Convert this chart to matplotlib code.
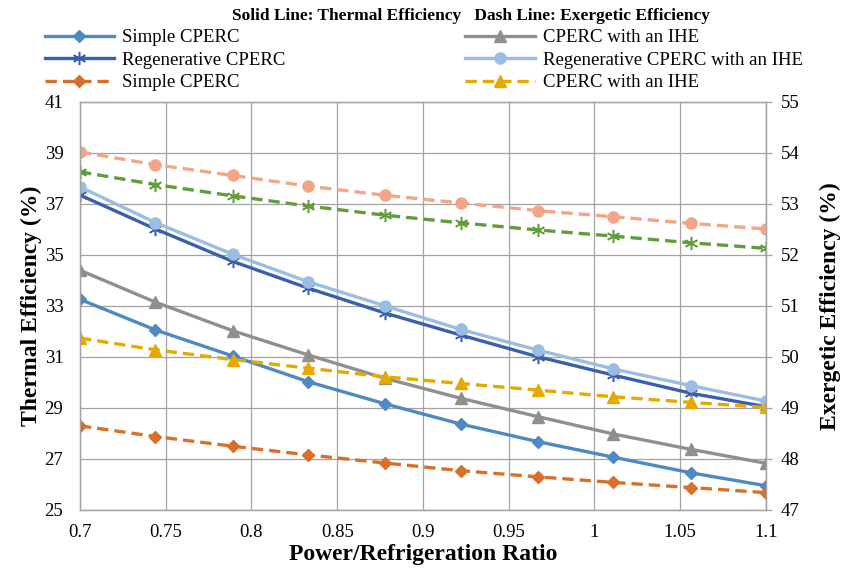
import numpy as np
from matplotlib import pyplot as plt
from matplotlib.lines import Line2D

# power/refrigeration ratio (10 points between 0.7 and 1.1)
RATIO = [0.7, 0.744, 0.789, 0.833, 0.878, 0.922, 0.967, 1.011, 1.056, 1.1]

# thermal efficiency (%), left axis, solid lines
th_simple = [33.26, 32.06, 31.04, 30.03, 29.16, 28.37, 27.68, 27.07, 26.46, 25.95]
th_regen = [37.35, 36.02, 34.75, 33.70, 32.72, 31.86, 31.01, 30.29, 29.58, 29.05]
th_ihe = [34.40, 33.15, 32.03, 31.08, 30.16, 29.38, 28.66, 27.98, 27.38, 26.83]
th_regen_ihe = [37.67, 36.27, 35.03, 33.95, 33.00, 32.08, 31.27, 30.53, 29.88, 29.27]

# exergetic efficiency (%), right axis, dashed lines
ex_simple = [48.65, 48.44, 48.25, 48.08, 47.92, 47.77, 47.65, 47.54, 47.44, 47.34]
ex_regen = [53.63, 53.38, 53.16, 52.96, 52.78, 52.63, 52.49, 52.37, 52.24, 52.13]
ex_ihe = [50.37, 50.14, 49.95, 49.78, 49.61, 49.48, 49.35, 49.22, 49.11, 49.01]
ex_regen_ihe = [54.02, 53.77, 53.56, 53.35, 53.17, 53.02, 52.87, 52.75, 52.62, 52.51]

XTICKS = [0.7, 0.75, 0.8, 0.85, 0.9, 0.95, 1.0, 1.05, 1.1]
XTICKLABELS = ["0.7", "0.75", "0.8", "0.85", "0.9", "0.95", "1", "1.05", "1.1"]
LEFT_TICKS = [25, 27, 29, 31, 33, 35, 37, 39, 41]
RIGHT_TICKS = [47, 48, 49, 50, 51, 52, 53, 54, 55]

plt.rcParams['font.family'] = ['Liberation Serif', 'DejaVu Serif']
GRID = "#a3a3a3"
LW = 2.4
DASH = (3.4, 1.8)

fig = plt.figure(figsize=(8.42, 5.73), dpi=100)
ax = fig.add_axes([0.095, 0.110, 0.8147, 0.712])
ax2 = ax.twinx()

# solid lines -> thermal
ax.plot(RATIO, th_simple, '-', color="#4e89c1", lw=LW, marker='D', ms=6.5)
ax.plot(RATIO, th_regen, '-', color="#3b5fae", lw=LW, marker=(6, 2, 0), ms=9.5, mew=1.1)
ax.plot(RATIO, th_ihe, '-', color="#8f8f8f", lw=LW, marker='^', ms=9)
ax.plot(RATIO, th_regen_ihe, '-', color="#9bbde3", lw=LW, marker='o', ms=8)

# dashed lines -> exergetic
ax2.plot(RATIO, ex_simple, '--', color="#d8702c", lw=LW, dashes=DASH, marker='D', ms=6.5)
ax2.plot(RATIO, ex_regen, '--', color="#5f9e38", lw=LW, dashes=DASH, marker=(6, 2, 0), ms=9.5, mew=1.1)
ax2.plot(RATIO, ex_ihe, '--', color="#e5a900", lw=LW, dashes=DASH, marker='^', ms=9)
ax2.plot(RATIO, ex_regen_ihe, '--', color="#f2a687", lw=LW, dashes=DASH, marker='o', ms=8)

ax.set_xlim(0.7, 1.1)
ax.set_ylim(25, 41)
ax2.set_ylim(47, 55)
ax.set_xticks(XTICKS)
ax.set_xticklabels(XTICKLABELS)
ax.set_yticks(LEFT_TICKS)
ax2.set_yticks(RIGHT_TICKS)

ax.grid(True, color=GRID, lw=0.9)
ax.set_axisbelow(True)
for a in (ax, ax2):
    for s in a.spines.values():
        s.set_color(GRID)
        s.set_linewidth(0.9)
ax.tick_params(axis='x', length=0, pad=10, labelsize=13.5)
ax.tick_params(axis='y', length=0, pad=12, labelsize=13.5)
ax2.tick_params(axis='y', length=4.5, color=GRID, width=0.9, pad=6, labelsize=13.5)

ax.set_xlabel("Power/Refrigeration Ratio", fontsize=17, fontweight='bold', labelpad=2)
ax.set_ylabel("Thermal Efficiency (%)", fontsize=17, fontweight='bold', labelpad=2)
ax2.set_ylabel("Exergetic Efficiency (%)", fontsize=17, fontweight='bold', labelpad=15)

fig.text(0.559, 0.972, "Solid Line: Thermal Efficiency   Dash Line: Exergetic Efficiency",
         ha='center', va='center', fontsize=12.5, fontweight='bold')

# legend (only six entries as in the original)
h = [
    Line2D([], [], color="#4e89c1", lw=LW, marker='D', ms=6.5),
    Line2D([], [], color="#3b5fae", lw=LW, marker=(6, 2, 0), ms=9.5, mew=1.1),
    Line2D([], [], color="#d8702c", lw=LW, ls='--', dashes=DASH, marker='D', ms=6.5),
    Line2D([], [], color="#8f8f8f", lw=LW, marker='^', ms=9),
    Line2D([], [], color="#9bbde3", lw=LW, marker='o', ms=8),
    Line2D([], [], color="#e5a900", lw=LW, ls='--', dashes=DASH, marker='^', ms=9),
]
labels = ["Simple CPERC", "Regenerative CPERC", "Simple CPERC",
          "CPERC with an IHE", "Regenerative CPERC with an IHE", "CPERC with an IHE"]
fig.legend(h, labels, ncol=2, loc='upper left', bbox_to_anchor=(0.053, 0.949),
           frameon=False, fontsize=13.5, handlelength=3.7, handletextpad=0.45,
           columnspacing=9.57, labelspacing=0.28, borderpad=0, borderaxespad=0)

plt.savefig("out.png", dpi=100)
